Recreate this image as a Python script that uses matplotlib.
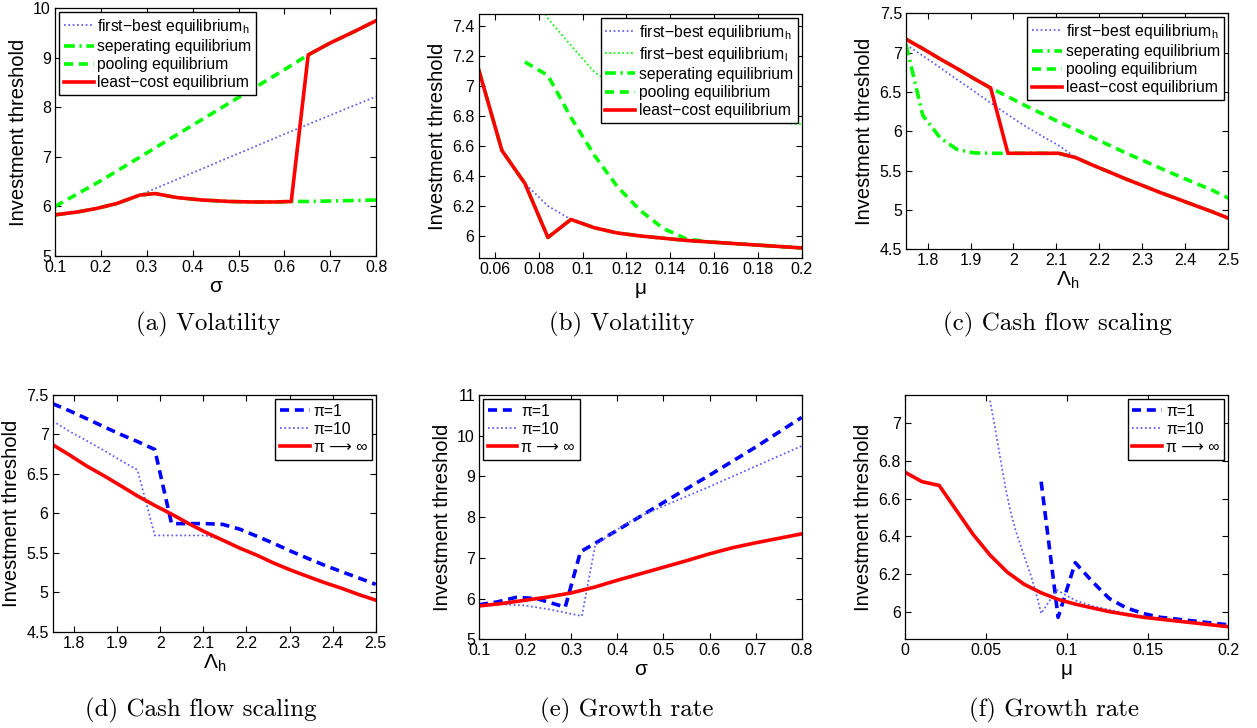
import matplotlib
matplotlib.use("Agg")
import matplotlib.pyplot as plt
from matplotlib.ticker import FuncFormatter

plt.rcParams['font.family'] = ['Liberation Sans', 'DejaVu Sans']
plt.rcParams['mathtext.fontset'] = 'custom'
plt.rcParams['mathtext.rm'] = 'Liberation Sans'
plt.rcParams['mathtext.it'] = 'Liberation Sans:italic'

# ---- (a) volatility, equilibria vs sigma ----
sig_a = [0.1, 0.15, 0.191, 0.235, 0.285, 0.318, 0.365, 0.42, 0.48, 0.53, 0.58, 0.615, 0.652, 0.7, 0.75, 0.8]
least_a = [5.83, 5.89, 5.96, 6.06, 6.23, 6.26, 6.18, 6.13, 6.10, 6.09, 6.09, 6.10, 9.06, 9.30, 9.52, 9.75]
sep_a = [5.83, 5.89, 5.96, 6.06, 6.23, 6.26, 6.18, 6.13, 6.10, 6.09, 6.09, 6.10, 6.10, 6.11, 6.12, 6.13]
sig_fb_a = [0.1, 0.15, 0.191, 0.235, 0.285, 0.4, 0.5, 0.6, 0.7, 0.8]
fb_h_a = [5.83, 5.89, 5.96, 6.06, 6.23, 6.68, 7.07, 7.46, 7.84, 8.22]
sig_pool_a = [0.1, 0.2, 0.3, 0.4, 0.5, 0.6, 0.652, 0.7, 0.75, 0.8]
pool_a = [6.0, 6.52, 7.08, 7.64, 8.2, 8.76, 9.06, 9.30, 9.52, 9.75]

# ---- (b) volatility, equilibria vs mu ----
mu_b = [0.0526, 0.0632, 0.0737, 0.0842, 0.0947, 0.1053, 0.1158, 0.1263, 0.1368, 0.1474,
        0.1579, 0.1684, 0.1789, 0.1895, 0.2]
least_b = [7.11, 6.57, 6.35, 5.99, 6.11, 6.055, 6.02, 6.0, 5.985, 5.97, 5.96, 5.95, 5.94, 5.93, 5.92]
fb_h_b = [7.11, 6.57, 6.35, 6.20, 6.11, 6.055, 6.02, 6.0, 5.985, 5.97, 5.96, 5.95, 5.94, 5.93, 5.92]
mu_b2 = mu_b[2:]
fb_l_b = [7.72, 7.45, 7.27, 7.095, 6.98, 6.92, 6.87, 6.83, 6.80, 6.78, 6.765, 6.755, 6.745]
pool_b = [7.16, 7.07, 6.79, 6.54, 6.33, 6.17, 6.05, 5.98, 5.96, 5.95, 5.94, 5.93, 5.92]

# ---- (c) cash flow scaling, equilibria vs Lambda_h ----
lam = [1.75, 1.789, 1.829, 1.868, 1.908, 1.947, 1.987, 2.026, 2.066, 2.105,
       2.145, 2.184, 2.224, 2.263, 2.303, 2.342, 2.382, 2.421, 2.461, 2.5]
least_c = [7.17, 7.05, 6.92, 6.80, 6.67, 6.55, 5.72, 5.72, 5.72, 5.72,
           5.665, 5.57, 5.48, 5.39, 5.305, 5.22, 5.14, 5.06, 4.98, 4.895]
fb_h_c = [7.10, 6.96, 6.81, 6.66, 6.51, 6.36, 6.21, 6.07, 5.94, 5.82,
          5.665, 5.57, 5.48, 5.39, 5.305, 5.22, 5.14, 5.06, 4.98, 4.895]
sep_c = [7.10, 6.20, 5.92, 5.77, 5.725, 5.72, 5.72, 5.72, 5.72, 5.72,
         5.665, 5.57, 5.48, 5.39, 5.305, 5.22, 5.14, 5.06, 4.98, 4.895]
pool_c = [7.17, 7.05, 6.92, 6.80, 6.67, 6.55, 6.44, 6.33, 6.225, 6.12,
          6.02, 5.92, 5.82, 5.72, 5.625, 5.53, 5.435, 5.345, 5.255, 5.15]

# ---- (d) cash flow scaling, pi ----
pi1_d = [7.39, 7.30, 7.20, 7.10, 7.00, 6.91, 6.81, 5.87, 5.87, 5.87,
         5.86, 5.80, 5.71, 5.62, 5.52, 5.43, 5.34, 5.26, 5.18, 5.10]
pi10_d = [7.17, 7.04, 6.92, 6.80, 6.67, 6.55, 5.72, 5.72, 5.72, 5.72,
          5.66, 5.56, 5.47, 5.37, 5.28, 5.20, 5.12, 5.05, 4.97, 4.90]
inf_d = [6.87, 6.74, 6.60, 6.48, 6.35, 6.22, 6.10, 5.99, 5.87, 5.76,
         5.66, 5.56, 5.47, 5.37, 5.28, 5.20, 5.12, 5.05, 4.97, 4.90]

# ---- (e) growth rate, pi vs sigma ----
sig_pi1_e = [0.1, 0.14, 0.18, 0.225, 0.287, 0.32, 0.355, 0.4, 0.5, 0.6, 0.7, 0.8]
pi1_e = [5.85, 5.92, 6.03, 6.0, 5.79, 7.15, 7.38, 7.68, 8.36, 9.03, 9.72, 10.45]
sig_pi10_e = [0.1, 0.15, 0.2, 0.25, 0.29, 0.323, 0.352, 0.4, 0.44, 0.5, 0.6, 0.7, 0.8]
pi10_e = [5.83, 5.86, 5.83, 5.74, 5.65, 5.57, 7.31, 7.70, 7.98, 8.27, 8.75, 9.25, 9.75]
sig_inf_e = [0.1, 0.15, 0.2, 0.25, 0.3, 0.35, 0.4, 0.45, 0.5, 0.55, 0.6, 0.65, 0.7, 0.75, 0.8]
inf_e = [5.82, 5.88, 5.96, 6.04, 6.14, 6.28, 6.45, 6.61, 6.77, 6.93, 7.10, 7.25, 7.37, 7.48, 7.59]

# ---- (f) growth rate, pi vs mu ----
mu_f = [0.0, 0.0105, 0.0211, 0.0316, 0.0421, 0.0526, 0.0632, 0.0737, 0.0842, 0.0947,
        0.1053, 0.1158, 0.1263, 0.1368, 0.1474, 0.1579, 0.1684, 0.1789, 0.1895, 0.2]
inf_f = [6.74, 6.69, 6.67, 6.54, 6.41, 6.30, 6.21, 6.145, 6.10, 6.065,
         6.04, 6.02, 6.0, 5.985, 5.97, 5.96, 5.95, 5.94, 5.93, 5.92]
mu_pi1_f = mu_f[8:]
pi1_f = [6.69, 5.97, 6.26, 6.16, 6.07, 6.02, 5.99, 5.97, 5.96, 5.95, 5.94, 5.93]
mu_pi10_f = [0.0526, 0.0558, 0.059, 0.0621, 0.0653, 0.0684, 0.0716, 0.0747, 0.0779, 0.081,
             0.0842, 0.0938, 0.1053, 0.1158, 0.1263, 0.1368, 0.1474, 0.1579, 0.1684, 0.1789,
             0.1895, 0.2]
pi10_f = [7.12, 6.97, 6.81, 6.66, 6.53, 6.43, 6.35, 6.27, 6.19, 6.10,
          5.99, 6.115, 6.06, 6.03, 6.01, 5.99, 5.975, 5.965, 5.955, 5.945,
          5.935, 5.925]

FB_H = 'first\u2212best equilibrium$_\\mathrm{h}$'
FB_L = 'first\u2212best equilibrium$_\\mathrm{l}$'
SEP = 'seperating equilibrium'
POOL = 'pooling equilibrium'
LEAST = 'least\u2212cost equilibrium'
PI_LABELS = ['\u03c0=1', '\u03c0=10', '\u03c0 \u27f6 \u221e']

BLUE = '#0000ff'
LBLUE = '#5a5aff'
GREEN = '#00ff00'
RED = '#ff0000'
LW = 2.6
THIN = 1.25
DOT = (0, (1, 1.5))
DASH = (0, (2.5, 1.6))
DASHDOT = (0, (3.0, 1.3, 0.6, 1.3))


def style_axes(ax, xlim, ylim, xticks, yticks, xlabel):
    ax.set_xlim(*xlim)
    ax.set_ylim(*ylim)
    ax.set_xticks(xticks)
    ax.set_yticks(yticks)
    fmt = FuncFormatter(lambda v, p: f'{v:g}')
    ax.xaxis.set_major_formatter(fmt)
    ax.yaxis.set_major_formatter(fmt)
    ax.tick_params(direction='in', top=True, right=True, length=4, width=0.8,
                   labelsize=11.5, pad=3)
    for s in ax.spines.values():
        s.set_linewidth(0.9)
    ax.set_xlabel(xlabel, fontsize=15, labelpad=1)
    ax.set_ylabel('Investment threshold', fontsize=14.5, labelpad=4)


def add_legend(ax, loc):
    leg = ax.legend(loc=loc, fontsize=11.3, fancybox=False, framealpha=1, edgecolor='black',
                    borderpad=0.3, handlelength=1.9, handletextpad=0.25, labelspacing=0.2,
                    borderaxespad=0.25)
    leg.get_frame().set_linewidth(1.0)


fig = plt.figure(figsize=(12.57, 7.28), dpi=100)

# (a)
ax = fig.add_axes([0.0438, 0.6484, 0.2554, 0.3402])
ax.plot(sig_fb_a, fb_h_a, color=LBLUE, lw=THIN, linestyle=DOT, label=FB_H)
ax.plot(sig_a, sep_a, color=GREEN, lw=LW, linestyle=DASHDOT, label=SEP)
ax.plot(sig_pool_a, pool_a, color=GREEN, lw=LW, linestyle=DASH, label=POOL)
ax.plot(sig_a, least_a, color=RED, lw=LW, label=LEAST)
style_axes(ax, (0.1, 0.8), (5, 10), [0.1, 0.2, 0.3, 0.4, 0.5, 0.6, 0.7, 0.8],
           [5, 6, 7, 8, 9, 10], '\u03c3')
add_legend(ax, 'upper left')

# (b)
ax = fig.add_axes([0.3808, 0.6456, 0.2570, 0.3352])
ax.plot(mu_b, fb_h_b, color=LBLUE, lw=THIN, linestyle=DOT, label=FB_H)
ax.plot(mu_b2, fb_l_b, color=GREEN, lw=THIN, linestyle=DOT, label=FB_L)
ax.plot(mu_b, least_b, color=GREEN, lw=LW, linestyle=DASHDOT, label=SEP)
ax.plot(mu_b2, pool_b, color=GREEN, lw=LW, linestyle=DASH, label=POOL)
ax.plot(mu_b, least_b, color=RED, lw=LW, label=LEAST)
style_axes(ax, (0.0526, 0.2), (5.853, 7.48), [0.06, 0.08, 0.1, 0.12, 0.14, 0.16, 0.18, 0.2],
           [6, 6.2, 6.4, 6.6, 6.8, 7, 7.2, 7.4], '\u03bc')
add_legend(ax, 'upper right')

# (c)
ax = fig.add_axes([0.7208, 0.6576, 0.2564, 0.3242])
ax.plot(lam, fb_h_c, color=LBLUE, lw=THIN, linestyle=DOT, label=FB_H)
ax.plot(lam, sep_c, color=GREEN, lw=LW, linestyle=DASHDOT, label=SEP)
ax.plot(lam, pool_c, color=GREEN, lw=LW, linestyle=DASH, label=POOL)
ax.plot(lam, least_c, color=RED, lw=LW, label=LEAST)
style_axes(ax, (1.75, 2.5), (4.5, 7.5), [1.8, 1.9, 2, 2.1, 2.2, 2.3, 2.4, 2.5],
           [4.5, 5, 5.5, 6, 6.5, 7, 7.5], '\u039b$_\\mathrm{h}$')
add_legend(ax, 'upper right')

# (d)
ax = fig.add_axes([0.0419, 0.1323, 0.2570, 0.3251])
ax.plot(lam, pi1_d, color=BLUE, lw=LW, linestyle=DASH, label=PI_LABELS[0])
ax.plot(lam, pi10_d, color=LBLUE, lw=THIN, linestyle=DOT, label=PI_LABELS[1])
ax.plot(lam, inf_d, color=RED, lw=LW, label=PI_LABELS[2])
style_axes(ax, (1.75, 2.5), (4.5, 7.5), [1.8, 1.9, 2, 2.1, 2.2, 2.3, 2.4, 2.5],
           [4.5, 5, 5.5, 6, 6.5, 7, 7.5], '\u039b$_\\mathrm{h}$')
add_legend(ax, 'upper right')

# (e)
ax = fig.add_axes([0.3811, 0.1218, 0.2567, 0.3356])
ax.plot(sig_pi1_e, pi1_e, color=BLUE, lw=LW, linestyle=DASH, label=PI_LABELS[0])
ax.plot(sig_pi10_e, pi10_e, color=LBLUE, lw=THIN, linestyle=DOT, label=PI_LABELS[1])
ax.plot(sig_inf_e, inf_e, color=RED, lw=LW, label=PI_LABELS[2])
style_axes(ax, (0.1, 0.8), (5, 11), [0.1, 0.2, 0.3, 0.4, 0.5, 0.6, 0.7, 0.8],
           [5, 6, 7, 8, 9, 10, 11], '\u03c3')
add_legend(ax, 'upper left')

# (f)
ax = fig.add_axes([0.7200, 0.1218, 0.2572, 0.3356])
ax.plot(mu_pi1_f, pi1_f, color=BLUE, lw=LW, linestyle=DASH, label=PI_LABELS[0])
ax.plot(mu_pi10_f, pi10_f, color=LBLUE, lw=THIN, linestyle=DOT, label=PI_LABELS[1])
ax.plot(mu_f, inf_f, color=RED, lw=LW, label=PI_LABELS[2])
style_axes(ax, (0, 0.2), (5.853, 7.15), [0, 0.05, 0.1, 0.15, 0.2],
           [6, 6.2, 6.4, 6.6, 6.8, 7], '\u03bc')
add_legend(ax, 'upper right')

# sub-captions
captions = ['(a) Volatility', '(b) Volatility', '(c) Cash flow scaling',
            '(d) Cash flow scaling', '(e) Growth rate', '(f) Growth rate']
cap_x = [208, 622, 1057, 201, 627, 1054]
cap_y = [324, 324, 324, 710, 710, 710]
for txt, cx, cy in zip(captions, cap_x, cap_y):
    fig.text(cx / 1257, 1 - cy / 728, txt, ha='center', va='center', fontsize=18,
             family=['cmr10', 'DejaVu Serif'])

plt.savefig('out.png', dpi=100)
plt.close()
